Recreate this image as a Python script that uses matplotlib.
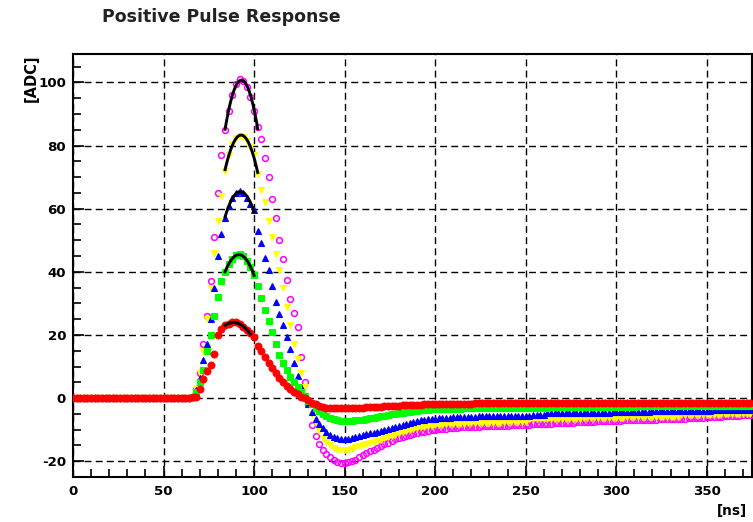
import numpy as np
import matplotlib
matplotlib.use('Agg')
import matplotlib.pyplot as plt
from matplotlib.ticker import MultipleLocator

plt.rcParams['font.family'] = ['DejaVu Sans']
plt.rcParams['axes.unicode_minus'] = False

# sampling times [ns]
t_ns = list(range(0, 376, 2))

# pedestal region 0..64 ns (all channels at zero)
baseline_adc = [0.0, 0.0, 0.0, 0.0, 0.0, 0.0, 0.0, 0.0, 0.0, 0.0, 0.0,
                0.0, 0.0, 0.0, 0.0, 0.0, 0.0, 0.0, 0.0, 0.0, 0.0, 0.0,
                0.0, 0.0, 0.0, 0.0, 0.0, 0.0, 0.0, 0.0, 0.0, 0.0, 0.0]

# pulse region 66..158 ns
magenta_pulse = [0.5, 3, 8, 17, 26, 37, 51, 65, 77, 85,
                 91, 96, 99.5, 101, 100.5, 98.5, 95.5, 91, 86, 82,
                 76, 70, 63, 57, 50, 44, 37.5, 31.5, 27, 22.5,
                 13, 5, -2, -8.5, -12, -14.5, -16.3, -17.6, -18.7, -19.6,
                 -20.2, -20.5, -20.6, -20.4, -20.0, -19.5, -18.8]
yellow_pulse = [0.4, 3, 8, 15, 25, 35, 46, 56, 64, 72,
                77, 80.5, 82.3, 83, 82.8, 81.5, 79.5, 77, 71, 66,
                62, 56, 51, 45.5, 40.5, 35, 29, 23, 17, 12.5,
                8, 3.5, -1.5, -5, -8, -10.5, -12.5, -14, -15, -15.8,
                -16.3, -16.5, -16.5, -16.3, -16.0, -15.6, -15.2]
blue_pulse = [0.3, 2.5, 6.5, 12, 17, 25, 35, 45, 52, 57,
              61, 63.5, 65, 65.5, 65, 63.5, 61.5, 59.5, 53, 49,
              44.5, 40.5, 35.5, 30.5, 26.5, 23, 19.5, 15.5, 11, 7,
              3.5, 0.5, -2, -4.5, -6.5, -8.2, -9.6, -10.7, -11.6, -12.2,
              -12.6, -12.9, -13.0, -12.9, -12.6, -12.3, -11.9]
green_pulse = [0.3, 2, 5, 9, 15, 20, 26, 32, 37, 40,
               42.5, 44.2, 45.2, 45.5, 45, 43.5, 41.5, 39, 35.5, 31.8,
               28, 24.4, 20.8, 17, 13.6, 11, 8.8, 6.8, 5.0, 3.5,
               2.0, 0.6, -0.8, -2.0, -3.2, -4.2, -5.0, -5.7, -6.3, -6.7,
               -7.0, -7.2, -7.3, -7.3, -7.2, -7.1, -7.0]
red_pulse = [0.2, 0.5, 3, 6, 8.5, 10.5, 14, 20, 22, 23,
             23.6, 24, 24, 23.5, 22.5, 21.5, 20.5, 19.5, 16.5, 14.8,
             13, 11.2, 9.5, 7.8, 6.3, 5, 3.8, 2.8, 2, 1.2,
             0.5, 0, -0.7, -1.4, -2.0, -2.5, -2.8, -3.0, -3.2, -3.3,
             -3.3, -3.3, -3.3, -3.2, -3.2, -3.1, -3.0]

# recovery tail 160..374 ns
magenta_tail = [-18.0, -17.5, -16.9, -16.3, -15.8, -15.2, -14.7, -14.1, -13.6, -13.1,
                -12.6, -12.3, -11.9, -11.6, -11.3, -11.0, -10.8, -10.6, -10.4, -10.2,
                -10.0, -9.9, -9.8, -9.7, -9.6, -9.5, -9.4, -9.3, -9.3, -9.2,
                -9.2, -9.1, -9.1, -9.0, -9.0, -8.9, -8.9, -8.8, -8.8, -8.7,
                -8.7, -8.6, -8.6, -8.5, -8.5, -8.4, -8.4, -8.3, -8.3, -8.2,
                -8.2, -8.1, -8.1, -8.0, -8.0, -7.9, -7.9, -7.8, -7.8, -7.7,
                -7.7, -7.6, -7.6, -7.5, -7.5, -7.4, -7.4, -7.3, -7.3, -7.2,
                -7.2, -7.2, -7.1, -7.1, -7.0, -7.0, -7.0, -6.9, -6.9, -6.8,
                -6.8, -6.8, -6.7, -6.7, -6.7, -6.6, -6.6, -6.6, -6.5, -6.5,
                -6.4, -6.4, -6.3, -6.3, -6.2, -6.1, -6.1, -6.0, -6.0, -5.9,
                -5.8, -5.8, -5.7, -5.6, -5.6, -5.5, -5.5, -5.4]
yellow_tail = [-14.8, -14.5, -14.2, -13.9, -13.6, -13.2, -12.8, -12.4, -12.0, -11.6,
               -11.2, -10.9, -10.5, -10.2, -9.8, -9.5, -9.3, -9.1, -8.9, -8.7,
               -8.5, -8.4, -8.4, -8.3, -8.3, -8.2, -8.2, -8.1, -8.1, -8.0,
               -8.0, -8.0, -7.9, -7.9, -7.9, -7.8, -7.8, -7.8, -7.8, -7.7,
               -7.7, -7.7, -7.7, -7.6, -7.6, -7.6, -6.7, -6.7, -6.7, -6.7,
               -6.6, -6.6, -6.6, -6.6, -6.6, -6.5, -6.5, -6.5, -6.5, -6.5,
               -6.5, -6.4, -6.4, -6.4, -6.4, -6.4, -6.4, -6.4, -6.4, -6.2,
               -6.2, -6.2, -6.2, -6.1, -6.1, -6.1, -6.1, -6.1, -6.0, -6.0,
               -6.0, -6.0, -6.0, -6.0, -6.0, -6.0, -6.0, -6.0, -5.4, -5.4,
               -5.4, -5.4, -5.4, -5.3, -5.3, -5.3, -5.3, -5.3, -5.3, -5.2,
               -5.2, -5.2, -5.2, -5.2, -5.2, -5.2, -5.1, -5.1]
blue_tail = [-11.6, -11.4, -11.2, -11.0, -10.8, -10.5, -10.2, -9.8, -9.5, -9.1,
             -8.7, -8.4, -8.1, -7.8, -7.5, -7.3, -7.1, -6.9, -6.7, -6.6,
             -6.5, -6.4, -6.3, -6.2, -6.2, -6.1, -6.1, -6.0, -6.0, -5.9,
             -5.9, -5.9, -5.8, -5.8, -5.8, -5.8, -5.7, -5.7, -5.7, -5.7,
             -5.7, -5.6, -5.6, -5.6, -5.6, -5.6, -5.6, -5.5, -5.5, -5.5,
             -5.5, -4.7, -4.7, -4.7, -4.7, -4.7, -4.7, -4.7, -4.6, -4.6,
             -4.6, -4.6, -4.6, -4.6, -4.6, -4.6, -4.6, -4.6, -4.6, -4.5,
             -4.5, -4.5, -4.5, -4.5, -4.5, -4.5, -4.5, -4.5, -4.5, -4.5,
             -4.1, -4.1, -4.1, -4.1, -4.1, -4.1, -4.1, -4.0, -4.0, -4.0,
             -4.0, -4.0, -4.0, -4.0, -4.0, -4.0, -4.0, -3.9, -3.9, -3.9,
             -3.9, -3.9, -3.9, -3.9, -3.9, -3.9, -3.9, -3.9]
green_tail = [-6.8, -6.6, -6.4, -6.2, -6.0, -5.8, -5.6, -5.4, -5.2, -5.0,
              -4.8, -4.6, -4.4, -4.3, -4.1, -4.0, -3.9, -3.8, -3.7, -3.6,
              -3.5, -3.5, -3.5, -3.4, -3.4, -3.4, -3.4, -3.4, -3.3, -3.3,
              -3.3, -3.3, -3.3, -3.3, -3.3, -3.3, -3.3, -3.2, -3.2, -3.2,
              -3.2, -3.2, -3.2, -3.2, -3.2, -3.2, -3.2, -3.2, -3.2, -3.2,
              -3.2, -3.2, -2.8, -2.8, -2.8, -2.8, -2.8, -2.8, -2.8, -2.8,
              -2.8, -2.8, -2.8, -2.8, -2.7, -2.7, -2.7, -2.7, -2.7, -2.7,
              -2.7, -2.7, -2.7, -2.7, -2.7, -2.7, -2.6, -2.6, -2.6, -2.6,
              -2.6, -2.6, -2.6, -2.6, -2.6, -2.6, -2.6, -2.6, -2.6, -2.5,
              -2.5, -2.5, -2.5, -2.5, -2.5, -2.5, -2.5, -2.5, -2.5, -2.5,
              -2.5, -2.5, -2.5, -2.5, -2.4, -2.4, -2.4, -2.4]
red_tail = [-3.0, -2.9, -2.9, -2.8, -2.7, -2.7, -2.6, -2.5, -2.5, -2.4,
            -2.4, -2.3, -2.3, -2.2, -2.2, -2.1, -2.1, -2.0, -2.0, -2.0,
            -1.9, -1.9, -1.9, -1.9, -1.8, -1.8, -1.8, -1.8, -1.8, -1.8,
            -1.8, -1.7, -1.7, -1.7, -1.7, -1.7, -1.7, -1.7, -1.7, -1.7,
            -1.7, -1.6, -1.6, -1.6, -1.6, -1.6, -1.6, -1.6, -1.6, -1.6,
            -1.6, -1.6, -1.6, -1.6, -1.6, -1.6, -1.6, -1.6, -1.6, -1.6,
            -1.6, -1.6, -1.5, -1.5, -1.5, -1.5, -1.5, -1.5, -1.5, -1.5,
            -1.5, -1.5, -1.5, -1.5, -1.5, -1.5, -1.5, -1.5, -1.5, -1.5,
            -1.5, -1.5, -1.5, -1.5, -1.5, -1.5, -1.5, -1.5, -1.5, -1.5,
            -1.5, -1.5, -1.5, -1.5, -1.5, -1.4, -1.4, -1.4, -1.4, -1.4,
            -1.4, -1.4, -1.4, -1.4, -1.4, -1.4, -1.4, -1.4]

series_names = ['magenta', 'yellow', 'blue', 'green', 'red']
series_values = {
    'magenta': baseline_adc + magenta_pulse + magenta_tail,
    'yellow': baseline_adc + yellow_pulse + yellow_tail,
    'blue': baseline_adc + blue_pulse + blue_tail,
    'green': baseline_adc + green_pulse + green_tail,
    'red': baseline_adc + red_pulse + red_tail,
}
fit_windows = {'magenta': (84, 102), 'yellow': (84, 102), 'blue': (84, 100),
               'green': (84, 100), 'red': (84, 98)}

styles = {
    'magenta': dict(marker='o', mfc='none', mec='#ff00ff', ms=4.2, mew=1.1),
    'yellow': dict(marker='v', mfc='#ffff00', mec='#ffff00', ms=4.8, mew=0.8),
    'blue': dict(marker='^', mfc='#0000ff', mec='#0000ff', ms=4.8, mew=0.8),
    'green': dict(marker='s', mfc='#00ff00', mec='#00ff00', ms=4.0, mew=0.8),
    'red': dict(marker='o', mfc='#ff0000', mec='#ff0000', ms=5.2, mew=0.5),
}

W, H = 753, 522
fig = plt.figure(figsize=(W / 100, H / 100), dpi=100)
ax = fig.add_axes([73 / W, 1 - 477 / H, (752 - 73) / W, (477 - 54) / H])

t = np.array(t_ns, dtype=float)
for name in series_names:
    ax.plot(t, series_values[name], linestyle='none', **styles[name], zorder=3)

for name in series_names:
    v = np.array(series_values[name], dtype=float)
    lo, hi = fit_windows[name]
    m = (t >= lo) & (t <= hi)
    coef = np.polyfit(t[m], v[m], 2)
    tf = np.linspace(lo, hi, 60)
    ax.plot(tf, np.polyval(coef, tf), color='black', lw=2.1, zorder=4)

ax.set_xlim(0, 375)
ax.set_ylim(-25, 109)
ax.xaxis.set_major_locator(MultipleLocator(50))
ax.xaxis.set_minor_locator(MultipleLocator(10))
ax.yaxis.set_major_locator(MultipleLocator(20))
ax.yaxis.set_minor_locator(MultipleLocator(5))
ax.grid(True, which='major', color='black', linestyle=(0, (5, 3)), linewidth=1.0, zorder=1)
ax.set_axisbelow(True)
ax.tick_params(which='both', direction='in', top=False, right=False, width=1.2,
               labelsize=9.6, colors='black')
ax.tick_params(which='major', length=8)
ax.tick_params(which='minor', length=6)
ax.tick_params(axis='x', pad=6)
ax.tick_params(axis='y', pad=5)
for lab in ax.get_xticklabels() + ax.get_yticklabels():
    lab.set_fontweight('bold')
for sp in ax.spines.values():
    sp.set_linewidth(1.5)

fig.text(102 / W, 1 - 17.5 / H, 'Positive Pulse Response', ha='left', va='center',
         fontsize=12.5, fontweight='bold', color='#222222')
fig.text(31 / W, 1 - 55 / H, '[ADC]', rotation=90, ha='center', va='top',
         fontsize=10.5, fontweight='bold')
fig.text(747 / W, 1 - 511 / H, '[ns]', ha='right', va='center',
         fontsize=9.8, fontweight='bold')

fig.savefig('out.png', dpi=100)
